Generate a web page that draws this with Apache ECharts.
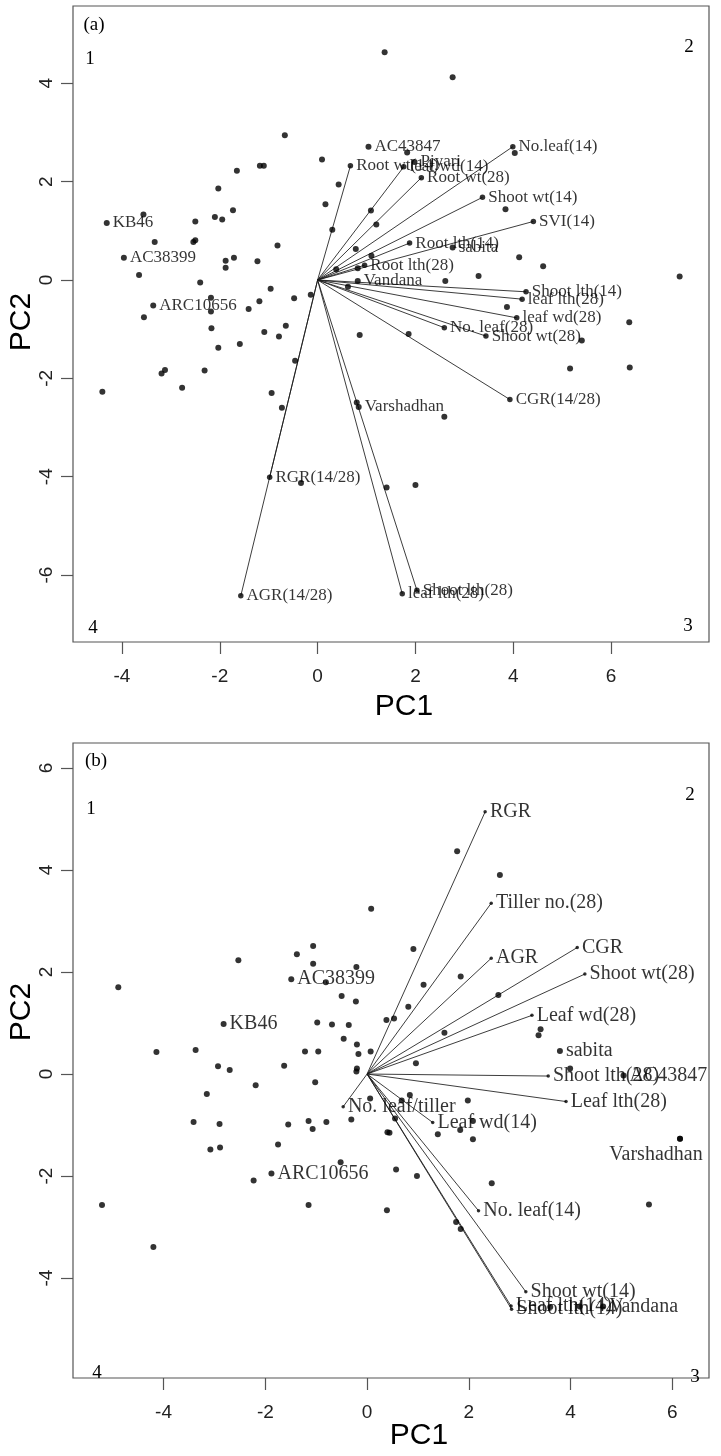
<!DOCTYPE html>
<html><head><meta charset="utf-8">
<script src="https://cdn.jsdelivr.net/npm/echarts@6/dist/echarts.min.js"></script>
<style>html,body{margin:0;padding:0;background:#fff}#c{width:721px;height:1456px}</style>
</head><body><div id="c"></div><script>
// ---------- Panel (a) ----------
const aTicksX = [-4, -2, 0, 2, 4, 6];
const aTicksY = [-6, -4, -2, 0, 2, 4];
const aPtsX = [1.37,2.76,-0.67,0.09,1.83,-1.65,-1.18,-1.10,0.43,-2.03,0.16,-1.73,-2.10,-1.95,-2.50,-3.56,-3.33,-2.54,-2.50,0.30,1.09,1.20,-0.82,-1.88,-1.71,-1.88,-1.23,-3.65,0.78,1.10,0.82,0.38,-2.40,-0.96,-0.14,-0.48,0.62,-2.18,-2.18,-1.41,-1.19,-3.55,-2.17,-1.09,-0.79,-0.65,0.86,1.86,-2.03,-1.59,-0.46,-3.19,-3.12,-2.31,-4.40,-2.77,-0.94,-0.73,0.80,-0.34,1.41,2.00,5.16,6.38,2.59,3.84,4.12,4.61,3.29,7.40,2.61,3.87,6.37,5.40,4.03];
const aPtsY = [4.63,4.12,2.94,2.45,2.59,2.22,2.32,2.32,1.94,1.86,1.54,1.42,1.28,1.23,1.19,1.33,0.77,0.77,0.81,1.02,1.41,1.13,0.70,0.39,0.45,0.25,0.38,0.10,0.63,0.49,0.24,0.22,-0.05,-0.18,-0.30,-0.37,-0.14,-0.36,-0.64,-0.59,-0.43,-0.76,-0.98,-1.06,-1.15,-0.93,-1.12,-1.10,-1.38,-1.30,-1.64,-1.90,-1.83,-1.84,-2.27,-2.19,-2.30,-2.60,-2.49,-4.13,-4.22,-4.17,-1.80,-1.78,-2.78,1.44,0.46,0.28,0.08,0.07,-0.02,-0.55,-0.86,-1.23,2.58];
const aGenoNames = ["KB46","AC38399","ARC10656","AC43847","Piyari","sabita","Vandana","Varshadhan"];
const aGenoX = [-4.31,-3.96,-3.36,1.04,1.98,2.76,0.82,0.84];
const aGenoY = [1.16,0.45,-0.52,2.71,2.40,0.66,-0.02,-2.58];
const aVarNames = ["Root wt(14)","leaf wd(14)","Root wt(28)","No.leaf(14)","Shoot wt(14)","SVI(14)","Root lth(14)","Root lth(28)","Shoot lth(14)","leaf lth(28)","leaf wd(28)","No. leaf(28)","Shoot wt(28)","CGR(14/28)","RGR(14/28)","AGR(14/28)","leaf lth(28)","Shoot lth(28)"];
const aVarX = [0.67,1.76,2.12,3.99,3.37,4.41,1.88,0.96,4.26,4.18,4.07,2.59,3.44,3.93,-0.98,-1.57,1.73,2.03];
const aVarY = [2.32,2.30,2.08,2.71,1.68,1.19,0.75,0.30,-0.24,-0.39,-0.77,-0.97,-1.14,-2.43,-4.01,-6.42,-6.38,-6.31];

// ---------- Panel (b) ----------
const bTicksX = [-4, -2, 0, 2, 4, 6];
const bTicksY = [-4, -2, 0, 2, 4, 6];
const bPtsX = [-4.89,0.08,-2.53,-1.38,-1.06,-1.06,-0.21,-0.81,-0.50,-0.22,-0.98,-0.69,-0.36,0.38,-0.46,-0.20,-0.17,0.07,-0.20,-0.21,-4.14,-3.37,-1.22,-0.96,-2.93,-2.70,-1.63,-2.19,-1.02,-3.15,0.06,0.84,0.68,1.98,-3.41,-2.90,-1.55,-1.15,-1.07,-0.80,-0.31,0.55,1.83,2.08,0.40,0.44,1.39,2.08,6.15,-3.08,-2.89,-1.75,-0.52,0.57,0.98,2.45,-2.23,-5.21,-1.15,0.39,-4.20,5.54,1.75,1.84,3.60,4.18,1.77,2.61,0.91,1.84,1.11,2.58,0.81,0.53,3.41,3.37,1.52,0.96,3.99];
const bPtsY = [1.70,3.24,2.23,2.35,2.51,2.16,2.10,1.80,1.53,1.42,1.01,0.97,0.96,1.06,0.69,0.58,0.39,0.44,0.11,0.05,0.43,0.47,0.44,0.44,0.15,0.08,0.16,-0.22,-0.16,-0.39,-0.48,-0.41,-0.52,-0.52,-0.94,-0.98,-0.99,-0.92,-1.08,-0.94,-0.89,-0.87,-1.10,-0.92,-1.14,-1.15,-1.18,-1.28,-1.27,-1.48,-1.44,-1.38,-1.73,-1.87,-2.00,-2.14,-2.09,-2.57,-2.57,-2.67,-3.39,-2.56,-2.90,-3.04,-4.57,-4.56,4.37,3.90,2.45,1.91,1.75,1.55,1.32,1.09,0.88,0.76,0.81,0.21,0.11];
const bGenoNames = ["KB46","AC38399","ARC10656","sabita","AC43847","Varshadhan","Vandana"];
const bGenoX = [-2.82,-1.49,-1.88,3.79,5.04,6.15,4.64];
const bGenoY = [0.98,1.86,-1.95,0.45,-0.03,-1.27,-4.56];
const bVarNames = ["RGR","Tiller no.(28)","AGR","CGR","Shoot wt(28)","Leaf wd(28)","Shoot lth(28)","Leaf lth(28)","No. leaf/tiller","Leaf wd(14)","No. leaf(14)","Shoot wt(14)","Leaf lth(14)","Shoot lth(14)"];
const bVarX = [2.32,2.44,2.44,4.13,4.28,3.24,3.56,3.91,-0.47,1.29,2.19,3.12,2.83,2.84];
const bVarY = [5.14,3.35,2.27,2.48,1.96,1.15,-0.04,-0.54,-0.64,-0.95,-2.68,-4.27,-4.55,-4.61];

const SERIF = "'Liberation Serif','Times New Roman',serif";
const SANS = "'Liberation Sans',Arial,sans-serif";
const INK = '#000';

function xAx(gi, min, max, ticks) {
  return { type:'value', gridIndex:gi, min, max, splitLine:{show:false},
    axisLine:{show:false, onZero:false},
    axisTick:{show:true, inside:false, length:12, customValues:ticks, lineStyle:{color:'#555', width:1.2}},
    axisLabel:{customValues:ticks, margin:25, fontSize:19, fontFamily:SANS, color:'#222'} };
}
function yAx(gi, min, max, ticks) {
  return { type:'value', gridIndex:gi, min, max, splitLine:{show:false},
    axisLine:{show:false, onZero:false},
    axisTick:{show:true, inside:false, length:12, customValues:ticks, lineStyle:{color:'#555', width:1.2}},
    axisLabel:{customValues:ticks, margin:17, rotate:90, fontSize:19, fontFamily:SANS, color:'#222'} };
}
function zip(xs, ys, names) { return xs.map((x,i) => names ? [x, ys[i], names[i]] : [x, ys[i]]); }

function panelSeries(gi, ptsX, ptsY, gNames, gX, gY, vNames, vX, vY, fs, endSize, special) {
  const idx = {xAxisIndex:gi, yAxisIndex:gi};
  return [
    Object.assign({ type:'lines', coordinateSystem:'cartesian2d', polyline:false, silent:true,
      data: vX.map((x,i) => ({coords:[[0,0],[x, vY[i]]]})),
      lineStyle:{color:'#1a1a1a', width:0.85, opacity:1}, symbol:'none', z:2 }, idx),
    Object.assign({ type:'scatter', data: zip(ptsX, ptsY), symbol:'circle', symbolSize:6,
      itemStyle:{color:INK}, z:3 }, idx),
    Object.assign({ type:'scatter', symbol:'circle', symbolSize:endSize, itemStyle:{color:INK}, z:4,
      data: zip(vX, vY, vNames),
      label:{show:true, position:'right', distance:3, formatter:p => p.data[2], fontFamily:SERIF, fontSize:fs, color:INK} }, idx),
    Object.assign({ type:'scatter', symbol:'circle', symbolSize:6, itemStyle:{color:INK}, z:4,
      data: gNames.map((n,i) => {
        const it = {value:[gX[i], gY[i], n]};
        if (special && special[n]) it.label = special[n];
        return it;
      }),
      label:{show:true, position:'right', distance:3, formatter:p => p.data.value ? p.data.value[2] : p.data[2], fontFamily:SERIF, fontSize:fs, color:INK} }, idx)
  ];
}

function txt(x, y, s, font, rot) {
  return { type:'text', x, y, rotation: rot || 0, z:10, silent:true,
    style:{ text:s, x:0, y:0, font, fill:'#000', align:'center', verticalAlign:'middle', textAlign:'center', textVerticalAlign:'middle' } };
}

const chart = echarts.init(document.getElementById('c'), null, {renderer:'canvas'});
chart.setOption({
  animation:false,
  backgroundColor:'#fff',
  grid:[
    {left:73, top:6, width:636, height:636, show:true, borderColor:'#555', borderWidth:1.2, backgroundColor:'transparent'},
    {left:73, top:743, width:636, height:635, show:true, borderColor:'#555', borderWidth:1.2, backgroundColor:'transparent'}
  ],
  xAxis:[ xAx(0, -5, 8, aTicksX), xAx(1, -5.78, 6.72, bTicksX) ],
  yAxis:[ yAx(0, -7.36, 5.57, aTicksY), yAx(1, -5.96, 6.49, bTicksY) ],
  series: [].concat(
    panelSeries(0, aPtsX, aPtsY, aGenoNames, aGenoX, aGenoY, aVarNames, aVarX, aVarY, 17, 5.5, null),
    panelSeries(1, bPtsX, bPtsY, bGenoNames, bGenoX, bGenoY, bVarNames, bVarX, bVarY, 20, 3.5,
      {Varshadhan:{show:true, position:'bottom', distance:3, offset:[-24,0]}})
  ),
  graphic:[
    txt(94, 25, '(a)', '19px ' + SERIF),
    txt(90, 59, '1', '19px ' + SERIF),
    txt(689, 47, '2', '19px ' + SERIF),
    txt(688, 626, '3', '19px ' + SERIF),
    txt(93, 628, '4', '19px ' + SERIF),
    txt(96, 761, '(b)', '19px ' + SERIF),
    txt(91, 809, '1', '19px ' + SERIF),
    txt(690, 795, '2', '19px ' + SERIF),
    txt(695, 1377, '3', '19px ' + SERIF),
    txt(97, 1373, '4', '19px ' + SERIF),
    txt(404, 707, 'PC1', '30px ' + SANS),
    txt(419, 1436, 'PC1', '30px ' + SANS),
    txt(22, 322, 'PC2', '30px ' + SANS, Math.PI/2),
    txt(22, 1012, 'PC2', '30px ' + SANS, Math.PI/2)
  ]
});
</script></body></html>
